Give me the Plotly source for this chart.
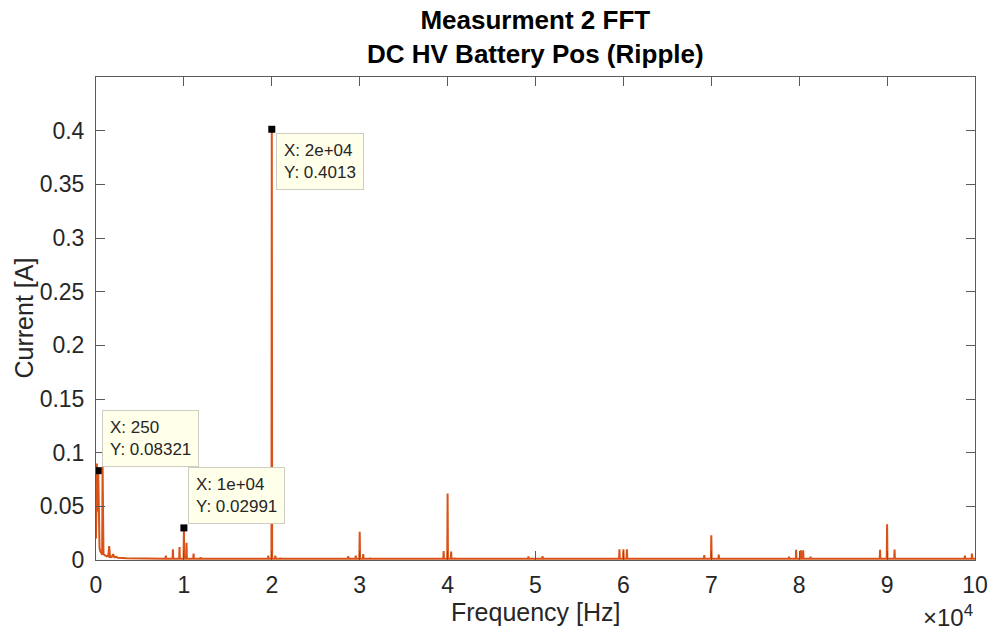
import plotly.graph_objects as go

# ---------------- data ----------------
# continuum below 5 kHz (Hz, A)
lf_freq = [0, 50, 100, 150, 200, 250, 300, 350, 400, 450, 500, 600, 700, 750, 800,
           850, 900, 1000, 1100, 1200, 1300, 1400, 1500, 1550, 1600, 1800, 1950, 2100,
           2300, 2500, 2800, 3000, 3500, 4000, 4500, 5000]
lf_amp = [0.020, 0.050, 0.090, 0.060, 0.045, 0.08321, 0.035, 0.018, 0.012, 0.009, 0.008,
          0.006, 0.005, 0.087, 0.007, 0.006, 0.005, 0.0045, 0.004, 0.0035, 0.004, 0.0035,
          0.013, 0.004, 0.003, 0.0028, 0.0055, 0.0025, 0.003, 0.002, 0.0022, 0.0018,
          0.0016, 0.0015, 0.0014, 0.0012]

# discrete spectral lines above 5 kHz (Hz, A)
peak_freq = [7950, 8750, 9500, 10000, 10300, 11100, 11900, 16000,
             19600, 20000, 20400, 21000,
             27900, 28700, 29550, 30000, 30400, 31200, 31800,
             39100, 39550, 40000, 40400, 40800,
             49200, 50000, 50800,
             59550, 60000, 60400,
             69200, 70000, 70850,
             78000, 78850, 79650, 80200, 80450, 81300,
             89200, 90000, 90850,
             98000, 98850, 99650]
peak_amp = [0.004, 0.010, 0.012, 0.02991, 0.016, 0.006, 0.0025, 0.0015,
            0.004, 0.4013, 0.004, 0.002,
            0.0015, 0.0035, 0.004, 0.0264, 0.0055, 0.002, 0.0012,
            0.0015, 0.0084, 0.062, 0.0078, 0.002,
            0.0034, 0.0015, 0.0037,
            0.010, 0.010, 0.010,
            0.0045, 0.023, 0.005,
            0.0012, 0.003, 0.0094, 0.009, 0.009, 0.003,
            0.0094, 0.0332, 0.0097,
            0.0012, 0.004, 0.006]
noise_floor = 0.0012
f_max = 100000

# data tips
tip_freq = [250, 10000, 20000]
tip_amp = [0.08321, 0.02991, 0.4013]
tip_text = ["X: 250<br>Y: 0.08321", "X: 1e+04<br>Y: 0.02991", "X: 2e+04<br>Y: 0.4013"]
tip_below = [False, False, True]

# ticks
xtick_vals = [0, 10000, 20000, 30000, 40000, 50000, 60000, 70000, 80000, 90000, 100000]
xtick_text = ["0", "1", "2", "3", "4", "5", "6", "7", "8", "9", "10"]
ytick_vals = [0, 0.05, 0.1, 0.15, 0.2, 0.25, 0.3, 0.35, 0.4]
ytick_text = ["0", "0.05", "0.1", "0.15", "0.2", "0.25", "0.3", "0.35", "0.4"]

# ---------------- build spectrum trace ----------------
pts = list(zip(lf_freq, lf_amp))
for f, a in zip(peak_freq, peak_amp):
    pts += [(f - 40, noise_floor), (f, a), (f + 40, noise_floor)]
pts.append((f_max, noise_floor))
pts.sort(key=lambda p: p[0])
xs = [p[0] for p in pts]
ys = [p[1] for p in pts]

LINE = "#D95319"
TXT = "#262626"
AX = "#5a5a5a"
FONT = "Liberation Sans, Arial, Helvetica, sans-serif"

fig = go.Figure()
fig.add_trace(go.Scatter(x=xs, y=ys, mode="lines",
                         line=dict(color=LINE, width=2),
                         hoverinfo="skip", showlegend=False))
fig.add_trace(go.Scatter(x=tip_freq, y=tip_amp, mode="markers",
                         marker=dict(symbol="square", size=7, color="black",
                                     line=dict(width=0)),
                         hoverinfo="skip", showlegend=False))

annotations = []
for f, a, t, below in zip(tip_freq, tip_amp, tip_text, tip_below):
    annotations.append(dict(
        x=f, y=a, xref="x", yref="y", text=t, showarrow=False,
        xanchor="left", yanchor="top" if below else "bottom",
        xshift=4, yshift=-4 if below else 4,
        align="left", font=dict(family=FONT, size=17, color=TXT),
        bgcolor="rgb(255,255,234)", bordercolor="rgb(205,205,195)",
        borderwidth=1, borderpad=7))

# title
annotations.append(dict(
    x=0.5, y=1, xref="paper", yref="paper", xanchor="center", yanchor="bottom",
    yshift=6, showarrow=False,
    text="<b>Measurment 2 FFT</b><br><b>DC HV Battery Pos (Ripple)</b>",
    font=dict(family=FONT, size=26, color="black")))
# axis titles
annotations.append(dict(
    x=0.5, y=0, xref="paper", yref="paper", xanchor="center", yanchor="middle",
    yshift=-52, showarrow=False, text="Frequency [Hz]",
    font=dict(family=FONT, size=25, color=TXT)))
annotations.append(dict(
    x=0, y=0.5, xref="paper", yref="paper", xanchor="center", yanchor="middle",
    xshift=-73, showarrow=False, text="Current [A]", textangle=-90,
    font=dict(family=FONT, size=25, color=TXT)))
# exponent label
annotations.append(dict(
    x=1, y=0, xref="paper", yref="paper", xanchor="right", yanchor="middle",
    yshift=-56, showarrow=False, text="×10<sup>4</sup>",
    font=dict(family=FONT, size=24, color=TXT)))

fig.update_layout(
    width=991, height=633,
    margin=dict(l=96, r=16, t=77, b=73),
    paper_bgcolor="white", plot_bgcolor="white",
    showlegend=False,
    annotations=annotations,
    xaxis=dict(range=[0, f_max], tickmode="array", tickvals=xtick_vals,
               ticktext=xtick_text, ticks="inside", ticklen=9, tickwidth=1,
               tickcolor=AX, showline=True, linecolor=AX, linewidth=1,
               mirror="ticks", showgrid=False, zeroline=False, automargin=False,
               tickfont=dict(family=FONT, size=23, color=TXT),
               ticklabelstandoff=4),
    yaxis=dict(range=[0, 0.45], tickmode="array", tickvals=ytick_vals,
               ticktext=ytick_text, ticks="inside", ticklen=9, tickwidth=1,
               tickcolor=AX, showline=True, linecolor=AX, linewidth=1,
               mirror="ticks", showgrid=False, zeroline=False, automargin=False,
               tickfont=dict(family=FONT, size=23, color=TXT),
               ticklabelstandoff=6),
)

fig.write_html("out.html")
